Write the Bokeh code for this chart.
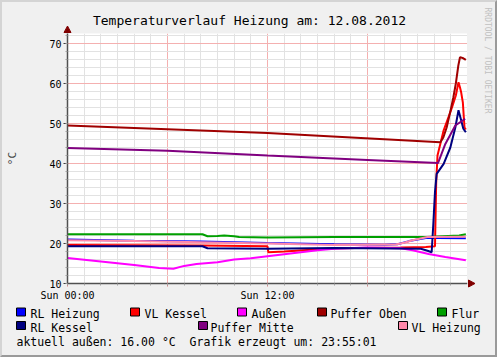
import math
from bokeh.plotting import figure
from bokeh.layouts import column, row
from bokeh.models import Range1d, FixedTicker, ColumnDataSource
from bokeh.core.properties import value
from bokeh.embed import file_html
from bokeh.resources import INLINE

MONO = "DejaVu Sans Mono"

# ---------------- data (hours since Sun 00:00, °C) ----------------
rl_heizung_h = [0, 4, 8, 12, 16, 19, 19.8, 20.5, 21.5, 22.2, 23.9]
rl_heizung_v = [21.0, 20.7, 20.5, 20.1, 19.8, 19.7, 19.8, 20.6, 21.4, 21.4, 21.3]

vl_kessel_h = [0, 8, 12.0, 12.05, 13, 16, 20, 21.5, 22.05, 22.12, 22.2, 22.57, 23.07, 23.3, 23.46, 23.55, 23.62, 23.72, 23.82, 23.9]
vl_kessel_v = [19.6, 19.5, 19.3, 17.8, 18.0, 18.8, 19.0, 19.1, 19.3, 35.0, 42.0, 48.3, 54.0, 57.0, 60.3, 59.0, 57.8, 55.3, 49.0, 48.5]

aussen_h = [0, 2, 4, 5.5, 6.35, 7, 7.74, 9, 10, 11, 12, 13, 14, 15, 16, 18, 20, 20.7, 21.67, 22.67, 23.9]
aussen_v = [16.4, 15.5, 14.6, 13.9, 13.7, 14.4, 14.9, 15.3, 16.0, 16.3, 16.8, 17.3, 17.8, 18.3, 18.7, 19.0, 18.8, 18.3, 17.4, 16.6, 15.8]

puffer_oben_h = [0, 12, 22.37, 22.55, 22.75, 22.97, 23.15, 23.3, 23.45, 23.55, 23.75, 23.9]
puffer_oben_v = [49.5, 47.6, 45.3, 46.5, 49.0, 53.0, 56.5, 60.0, 64.5, 66.6, 66.3, 65.9]

flur_h = [0, 8.1, 8.4, 9.0, 9.4, 10.0, 10.3, 12, 16, 19, 21.5, 22.5, 23.5, 23.9]
flur_v = [22.3, 22.3, 21.8, 21.9, 22.0, 21.8, 21.6, 21.5, 21.6, 21.6, 21.6, 21.8, 22.0, 22.3]

rl_kessel_h = [0, 8.1, 8.4, 12, 16, 21.2, 21.6, 21.85, 21.95, 22.05, 22.15, 22.57, 22.97, 23.27, 23.46, 23.62, 23.75, 23.9]
rl_kessel_v = [19.3, 19.3, 18.8, 18.7, 18.9, 18.7, 18.2, 17.8, 24.9, 33.0, 37.4, 39.9, 44.0, 49.0, 53.3, 50.8, 48.7, 47.8]

puffer_mitte_h = [0, 6, 12, 18, 22.23, 22.67, 23.27, 23.86]
puffer_mitte_v = [43.9, 43.2, 42.0, 40.9, 40.1, 44.9, 49.5, 51.2]

vl_heizung_h = [0, 4, 8, 12, 16, 19.7, 20.2, 20.7, 21.6, 23.9]
vl_heizung_v = [20.8, 20.6, 20.3, 20.0, 19.6, 19.75, 20.2, 20.8, 21.6, 21.7]

series = [
    ("RL Heizung", "#0000ff", rl_heizung_h, rl_heizung_v),
    ("VL Kessel", "#ff0000", vl_kessel_h, vl_kessel_v),
    ("Außen", "#ff00ff", aussen_h, aussen_v),
    ("Puffer Oben", "#a00000", puffer_oben_h, puffer_oben_v),
    ("Flur", "#00a000", flur_h, flur_v),
    ("RL Kessel", "#000080", rl_kessel_h, rl_kessel_v),
    ("Puffer Mitte", "#800080", puffer_mitte_h, puffer_mitte_v),
    ("VL Heizung", "#ff88aa", vl_heizung_h, vl_heizung_v),
]

x_ticks = [0, 6, 12, 18]
x_tick_labels = {0: "Sun 00:00", 6: "", 12: "Sun 12:00", 18: ""}
y_ticks = [10, 20, 30, 40, 50, 60, 70]

title_text = "Temperaturverlauf Heizung am: 12.08.2012"
footer_text = "aktuell außen: 16.00 °C \u00a0Grafik erzeugt um: 23:55:01"
credit_text = "RRDTOOL / TOBI OETIKER"

BG = "#f0f0f0"
AXIS = "#505050"
ARROW = "#800000"


def deco_fig(w, h, x0, x1, y0, y1):
    f = figure(width=w, height=h, output_backend="svg", toolbar_location=None,
               x_range=Range1d(x0, x1), y_range=Range1d(y1, y0), min_border=0,
               frame_align=False)
    f.axis.visible = False
    f.grid.visible = False
    f.outline_line_color = None
    f.background_fill_color = BG
    f.border_fill_color = BG
    return f


# ---------------- header (title + y-axis arrow), canvas pixel coords ----------------
head = deco_fig(465, 31, 2, 467, 2, 33)
head.text(x=[249], y=[20], text=[title_text], text_font=value(MONO), text_font_size="13px",
          text_align="center", text_baseline="alphabetic", text_color="#000000")
head.segment(x0=[67], y0=[33], x1=[67], y1=[29], line_color=AXIS, line_width=1.5)
head.patch(x=[63.5, 67, 70.5], y=[32, 25.5, 32], fill_color=ARROW, line_color=ARROW)

# ---------------- main chart ----------------
p = figure(width=465, height=271, output_backend="svg", toolbar_location=None,
           x_range=Range1d(0, 24), y_range=Range1d(10, 72.5), frame_align=False,
           min_border_left=65, min_border_right=0, min_border_top=0, min_border_bottom=21)
p.background_fill_color = "white"
p.border_fill_color = BG
p.outline_line_color = None

p.xgrid.ticker = FixedTicker(ticks=[0, 6, 12, 18, 24],
                             minor_ticks=[h for h in range(0, 25) if h % 6 != 0])
p.ygrid.ticker = FixedTicker(ticks=y_ticks,
                             minor_ticks=[v for v in range(10, 73, 2) if v % 10 != 0])
for g in (p.xgrid, p.ygrid):
    g.grid_line_color = "#f4b0b0"
    g.grid_line_width = 1
    g.minor_grid_line_color = "#e2e2e2"
    g.minor_grid_line_width = 1

xa = p.xaxis[0]
xa.ticker = FixedTicker(ticks=x_ticks, minor_ticks=list(range(0, 25)))
xa.major_label_overrides = x_tick_labels
ya = p.yaxis[0]
ya.ticker = FixedTicker(ticks=y_ticks, minor_ticks=list(range(10, 73, 2)))
ya.axis_label = "°C"
ya.axis_label_text_font = MONO
ya.axis_label_text_font_size = "11px"
ya.axis_label_text_font_style = "normal"
ya.axis_label_standoff = 27
for ax in (xa, ya):
    ax.axis_line_color = AXIS
    ax.axis_line_width = 1.5
    ax.major_label_text_font = MONO
    ax.major_label_text_font_size = "10px"
    ax.major_label_text_color = "#000000"
    ax.major_tick_in = 0
    ax.minor_tick_in = 0
    ax.minor_tick_out = 2
    ax.minor_tick_line_color = "#a0a0a0"
xa.major_tick_out = 3
xa.major_tick_line_color = "#e08080"
xa.major_label_standoff = 3
ya.major_tick_out = 4
ya.major_tick_line_color = "#404040"
ya.major_label_standoff = 2

for name, color, hx, hv in series:
    src = ColumnDataSource(dict(x=hx, y=hv))
    p.line("x", "y", source=src, line_color=color, line_width=2)

# ---------------- right strip (credit + x-axis arrow), canvas pixel coords ----------------
strip = deco_fig(28, 302, 467, 495, 2, 304)
strip.segment(x0=[467], y0=[283], x1=[471], y1=[283], line_color=AXIS, line_width=1.5)
strip.patch(x=[468, 474.5, 468], y=[279.5, 283, 286.5], fill_color=ARROW, line_color=ARROW)
strip.text(x=[487], y=[7], text=[credit_text], angle=-math.pi / 2, text_font=value(MONO),
           text_font_size="8px", text_align="left", text_baseline="middle", text_color="#c0c0c0")

# ---------------- legend panel (canvas pixel coords) ----------------
leg = deco_fig(493, 51, 2, 495, 304, 355)

sq_x = [16, 130, 237, 317, 437, 16, 198, 398]
sq_y = [311.5, 311.5, 311.5, 311.5, 311.5, 325, 325, 325]
tx_x = [30, 144, 251, 330, 451, 30, 210, 411]
tx_y = [313.5, 313.5, 313.5, 313.5, 313.5, 327, 327, 327]
names = [s[0] for s in series]
colors = [s[1] for s in series]
leg.rect(x=[v + 4.5 for v in sq_x], y=sq_y, width=9, height=8, fill_color=colors,
         line_color="#000000", line_width=1)
leg.text(x=tx_x, y=tx_y, text=names, text_font=value(MONO), text_font_size="11.5px",
         text_baseline="alphabetic", text_align="left", text_color="#000000")
leg.text(x=[16], y=[341], text=[footer_text], text_font=value(MONO), text_font_size="11.5px",
         text_baseline="alphabetic", text_align="left", text_color="#000000")

layout = column(row(column(head, p, spacing=0), strip, spacing=0), leg, spacing=0, styles={
    "border-top": "2px solid #d4d4d4", "border-left": "2px solid #d4d4d4",
    "border-right": "2px solid #9a9a9a", "border-bottom": "2px solid #9a9a9a",
    "background-color": BG})

open("out.html", "w").write(file_html(layout, INLINE))
